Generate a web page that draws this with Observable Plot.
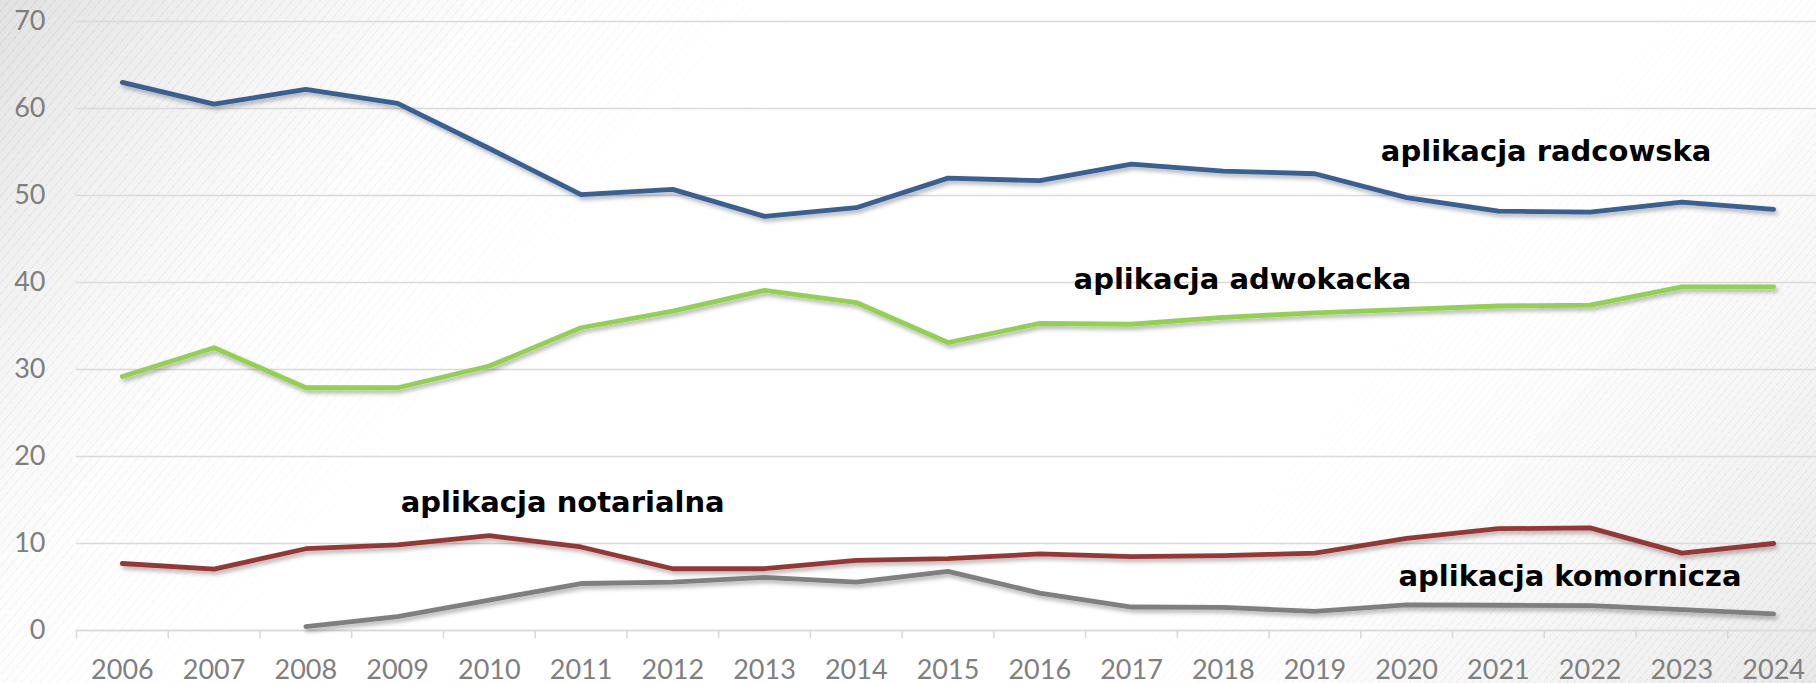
<!DOCTYPE html>
<html>
<head>
<meta charset="utf-8">
<script src="https://cdn.jsdelivr.net/npm/d3@7"></script>
<script src="https://cdn.jsdelivr.net/npm/@observablehq/plot@0.6"></script>
<style>
  html, body { margin: 0; padding: 0; background: #ffffff; overflow: hidden; }
  #wrap { position: relative; width: 1816px; height: 683px; }
  .bg { position: absolute; left: 0; top: 0; width: 1816px; height: 683px; pointer-events: none; }
  #bgA {
    background:
      repeating-linear-gradient(130deg, rgba(110,110,110,0.10) 0px, rgba(110,110,110,0.10) 1px, rgba(255,255,255,0) 1px, rgba(255,255,255,0) 7px),
      linear-gradient(130deg, rgba(190,190,190,0.45) 0%, rgba(230,230,230,0.2) 20%, rgba(255,255,255,0) 32%);
    -webkit-mask-image: linear-gradient(130deg, #000 0%, rgba(0,0,0,0.6) 22%, rgba(0,0,0,0) 36%);
    mask-image: linear-gradient(130deg, #000 0%, rgba(0,0,0,0.6) 22%, rgba(0,0,0,0) 36%);
  }
  #bgB {
    background:
      repeating-linear-gradient(130deg, rgba(110,110,110,0.10) 0px, rgba(110,110,110,0.10) 1px, rgba(255,255,255,0) 1px, rgba(255,255,255,0) 6px),
      linear-gradient(130deg, rgba(255,255,255,0) 72%, rgba(200,200,200,0.4) 100%);
    -webkit-mask-image: linear-gradient(130deg, rgba(0,0,0,0) 66%, rgba(0,0,0,0.7) 84%, #000 100%);
    mask-image: linear-gradient(130deg, rgba(0,0,0,0) 66%, rgba(0,0,0,0.7) 84%, #000 100%);
  }
  #chart { position: absolute; left: 0; top: 0; }
</style>
</head>
<body>
<div id="wrap">
  <div class="bg" id="bgA"></div>
  <div class="bg" id="bgB"></div>
  <div id="chart"></div>
</div>
<script>
// ---- data ----
const years = [2006, 2007, 2008, 2009, 2010, 2011, 2012, 2013, 2014, 2015, 2016, 2017, 2018, 2019, 2020, 2021, 2022, 2023, 2024];
const radcowska  = [63.0, 60.5, 62.2, 60.6, 55.4, 50.1, 50.7, 47.6, 48.6, 52.0, 51.7, 53.6, 52.8, 52.5, 49.75, 48.2, 48.1, 49.25, 48.4];
const adwokacka  = [29.2, 32.5, 27.9, 27.9, 30.4, 34.8, 36.7, 39.1, 37.7, 33.1, 35.3, 35.2, 36.0, 36.5, 36.9, 37.3, 37.4, 39.5, 39.5];
const notarialna = [7.7, 7.05, 9.4, 9.85, 10.9, 9.6, 7.1, 7.1, 8.05, 8.25, 8.8, 8.5, 8.6, 8.9, 10.6, 11.7, 11.8, 8.9, 10.0];
const komornicza = [null, null, 0.45, 1.6, 3.5, 5.4, 5.55, 6.1, 5.55, 6.8, 4.3, 2.7, 2.65, 2.2, 2.95, 2.9, 2.85, 2.4, 1.9];
const yTicks = [0, 10, 20, 30, 40, 50, 60, 70];

const labelTexts  = ["aplikacja radcowska", "aplikacja adwokacka", "aplikacja notarialna", "aplikacja komornicza"];
const labelYears  = [2021.52, 2018.21, 2010.80, 2021.78];
const labelValues = [53.95, 39.26, 13.67, 5.12];

// ---- build tables ----
const seriesDefs = [
  {name: "radcowska", values: radcowska, color: "#376092"},
  {name: "adwokacka", values: adwokacka, color: "#92d050"},
  {name: "notarialna", values: notarialna, color: "#953735"},
  {name: "komornicza", values: komornicza, color: "#7f7f7f"}
];
const rowsFor = (s) => years.map((yr, i) => ({year: yr, value: s.values[i]})).filter(d => d.value != null);
const boundaries = years.map(y => y - 0.5).concat([years[years.length - 1] + 0.5]);
const labels = labelTexts.map((t, i) => ({text: t, year: labelYears[i], value: labelValues[i]}));

const grid = "#d9d9d9";

const chart = Plot.plot({
  width: 1816,
  height: 683,
  marginLeft: 76,
  marginRight: -3,
  marginTop: 21,
  marginBottom: 53,
  style: {background: "transparent", fontFamily: "Lato, 'Open Sans', sans-serif", overflow: "visible"},
  x: {domain: [boundaries[0], boundaries[boundaries.length - 1]], label: null},
  y: {domain: [0, 70], label: null},
  marks: [
    Plot.gridY(yTicks, {stroke: grid, strokeOpacity: 1, strokeWidth: 1.6}),
    Plot.axisY(yTicks, {tickSize: 0, tickPadding: 31, fontSize: 27, fill: "#7f7f7f"}),
    Plot.axisX(years, {tickSize: 0, tickPadding: 29, fontSize: 27, fill: "#7f7f7f", tickFormat: d => String(d)}),
    Plot.axisX(boundaries, {tickSize: 8, tickFormat: () => "", stroke: grid, strokeWidth: 1.6}),
    Plot.ruleY([0], {stroke: grid, strokeWidth: 1.6}),
    ...seriesDefs.map(s => Plot.line(rowsFor(s), {
      x: "year", y: "value", stroke: s.color, strokeWidth: 4.8,
      strokeLinecap: "round", strokeLinejoin: "round"
    })),
    Plot.text(labels, {
      x: "year", y: "value", text: "text", textAnchor: "middle", lineAnchor: "bottom",
      fontSize: 29, fontWeight: "bold", fontFamily: "'DejaVu Sans', sans-serif", fill: "#000"
    })
  ]
});

// drop shadow for lines
const ns = "http://www.w3.org/2000/svg";
const defs = document.createElementNS(ns, "defs");
const filter = document.createElementNS(ns, "filter");
filter.setAttribute("id", "lineShadow");
filter.setAttribute("filterUnits", "userSpaceOnUse");
filter.setAttribute("x", "0"); filter.setAttribute("y", "0");
filter.setAttribute("width", "1816"); filter.setAttribute("height", "683");
const fe = document.createElementNS(ns, "feDropShadow");
fe.setAttribute("dx", "2"); fe.setAttribute("dy", "3");
fe.setAttribute("stdDeviation", "2");
fe.setAttribute("flood-color", "#000"); fe.setAttribute("flood-opacity", "0.3");
filter.appendChild(fe);
defs.appendChild(filter);
chart.insertBefore(defs, chart.firstChild);
chart.querySelectorAll('g[aria-label="line"]').forEach(g => g.setAttribute("filter", "url(#lineShadow)"));

document.getElementById("chart").appendChild(chart);
</script>
</body>
</html>
